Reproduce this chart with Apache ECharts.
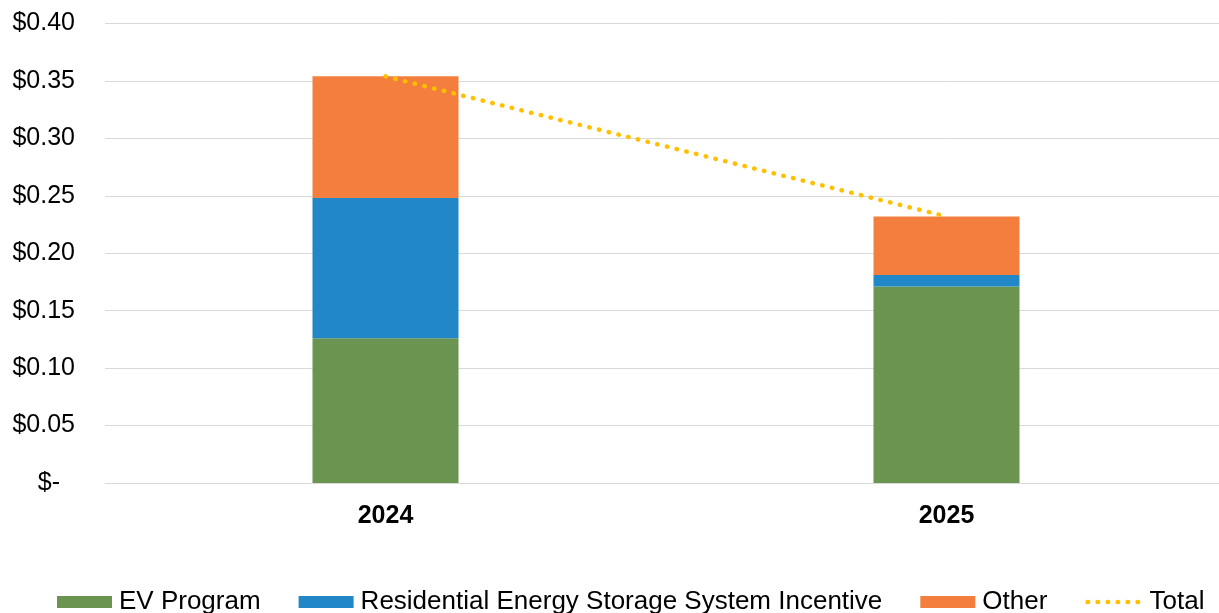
<!DOCTYPE html>
<html>
<head>
<meta charset="utf-8">
<script src="https://cdn.jsdelivr.net/npm/echarts@6/dist/echarts.min.js"></script>
<style>
  html, body { margin: 0; padding: 0; background: #fff; overflow: hidden; }
  /* plot area runs a few px past the right edge, like the original */
  #chart { width: 1227px; height: 613px; }
</style>
</head>
<body>
<div id="chart"></div>
<script>
// chart data
const years = ['2024', '2025']
const evProgram = [0.126, 0.171]
const storageIncentive = [0.122, 0.010]
const other = [0.106, 0.051]
const total = [0.354, 0.232]
const yTicks = { min: 0, max: 0.4, step: 0.05 }

const chart = echarts.init(document.getElementById('chart'))

const dotted = { color: '#ffc000', width: 4.5, type: [0.5, 9.5], cap: 'round' }

const barSeries = (name, data, color) => ({
  name,
  type: 'bar',
  stack: 'cost',
  data,
  barWidth: 146,
  itemStyle: { color },
  emphasis: { disabled: true }
})

chart.setOption({
  animation: false,
  backgroundColor: '#ffffff',
  textStyle: { fontFamily: '"Liberation Sans", Arial, sans-serif' },
  grid: { left: 105, right: 0, top: 23.5, bottom: 130, containLabel: false },
  legend: {
    left: 52,
    top: 584,
    itemWidth: 55,
    itemHeight: 12,
    itemGap: 38,
    textStyle: { fontSize: 26, color: '#000', lineHeight: 26, padding: [0, 0, 0, 2] },
    data: [
      { name: 'EV Program', icon: 'rect' },
      { name: 'Residential Energy Storage System Incentive', icon: 'rect' },
      { name: 'Other', icon: 'rect' },
      { name: 'Total', itemStyle: { opacity: 0 }, lineStyle: dotted }
    ]
  },
  xAxis: {
    type: 'category',
    data: years,
    axisLine: { lineStyle: { color: '#d9d9d9', width: 1 } },
    axisTick: { show: false },
    axisLabel: { fontSize: 25, fontWeight: 'bold', color: '#000', margin: 21 }
  },
  yAxis: {
    type: 'value',
    min: yTicks.min,
    max: yTicks.max,
    interval: yTicks.step,
    axisLine: { show: false },
    axisTick: { show: false },
    splitLine: { lineStyle: { color: '#d9d9d9', width: 1 } },
    axisLabel: {
      fontSize: 25,
      color: '#000',
      margin: 30,
      formatter: v => (v === 0 ? '{z|$-}' : '$' + v.toFixed(2)),
      rich: { z: { fontSize: 25, color: '#000', padding: [0, 15, 0, 0] } }
    }
  },
  series: [
    barSeries('EV Program', evProgram, '#6b9450'),
    barSeries('Residential Energy Storage System Incentive', storageIncentive, '#2187c6'),
    barSeries('Other', other, '#f47e3d'),
    {
      name: 'Total',
      type: 'line',
      data: total,
      symbol: 'none',
      itemStyle: { color: '#ffc000' },
      lineStyle: dotted,
      z: 5
    }
  ]
})
</script>
</body>
</html>
